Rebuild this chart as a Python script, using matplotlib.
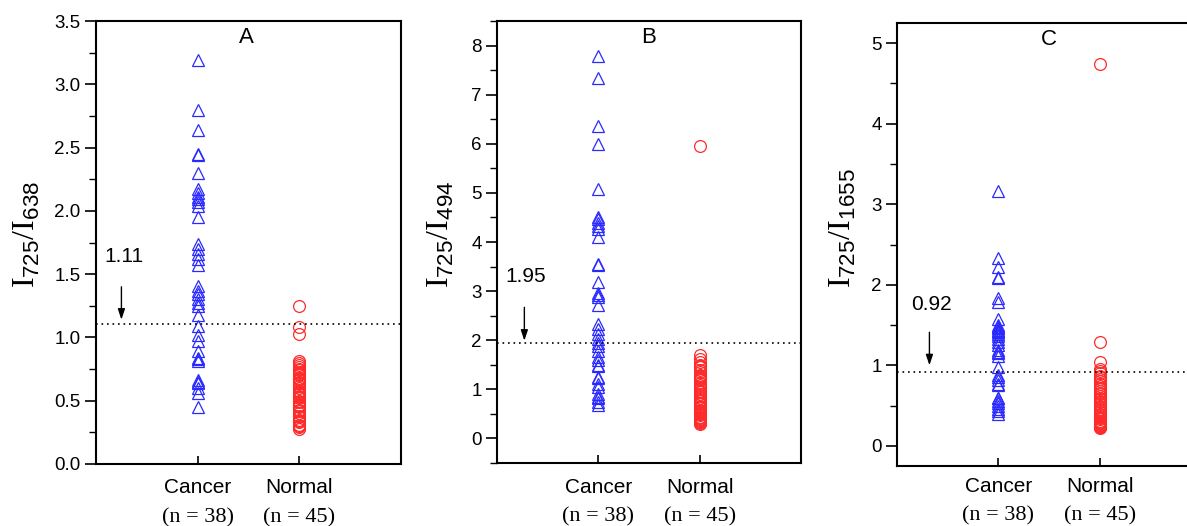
import matplotlib
matplotlib.use("Agg")
import matplotlib.pyplot as plt
from matplotlib.ticker import MultipleLocator, FormatStrFormatter
import matplotlib.transforms as mtransforms

plt.rcParams['font.family'] = ['Liberation Sans', 'DejaVu Sans']
plt.rcParams['mathtext.fontset'] = 'custom'
plt.rcParams['mathtext.rm'] = 'Liberation Serif'
plt.rcParams['mathtext.sf'] = 'Liberation Sans'

categories = ["Cancer", "Normal"]
counts = ["(n = 38)", "(n = 45)"]
panel_letters = ["A", "B", "C"]
denominators = ["638", "494", "1655"]
thresholds = [1.11, 1.95, 0.92]
threshold_labels = ["1.11", "1.95", "0.92"]

cancer_A = [3.19, 2.80, 2.64, 2.45, 2.44, 2.30, 2.17, 2.14, 2.11, 2.09, 2.07, 2.04, 1.95,
            1.74, 1.70, 1.66, 1.62, 1.57, 1.41, 1.37, 1.34, 1.30, 1.27, 1.25, 1.18, 1.09,
            1.02, 0.97, 0.89, 0.84, 0.83, 0.81, 0.66, 0.65, 0.64, 0.60, 0.56, 0.45]
normal_A = [1.25, 1.08, 1.03, 0.81, 0.80, 0.78, 0.77, 0.75, 0.74, 0.73, 0.72, 0.71, 0.70,
            0.68, 0.67, 0.66, 0.65, 0.64, 0.62, 0.60, 0.58, 0.57, 0.56, 0.55, 0.55, 0.54,
            0.53, 0.52, 0.50, 0.49, 0.47, 0.46, 0.45, 0.43, 0.42, 0.40, 0.38, 0.37, 0.35,
            0.34, 0.33, 0.31, 0.30, 0.29, 0.28]

cancer_B = [7.78, 7.33, 6.36, 6.00, 5.07, 4.50, 4.46, 4.39, 4.32, 4.26, 4.11, 3.55, 3.54,
            3.18, 2.97, 2.92, 2.87, 2.72, 2.33, 2.23, 2.13, 2.03, 1.95, 1.89, 1.79, 1.66,
            1.60, 1.49, 1.47, 1.25, 1.23, 1.10, 1.05, 0.91, 0.84, 0.82, 0.75, 0.69]
normal_B = [5.95, 1.69, 1.62, 1.55, 1.50, 1.47, 1.45, 1.40, 1.35, 1.30, 1.27, 1.25, 1.23,
            1.21, 1.18, 1.12, 1.08, 1.04, 1.00, 0.97, 0.94, 0.90, 0.86, 0.82, 0.79, 0.76,
            0.73, 0.70, 0.67, 0.64, 0.61, 0.58, 0.55, 0.53, 0.51, 0.49, 0.47, 0.44, 0.42,
            0.40, 0.38, 0.36, 0.34, 0.32, 0.30]

cancer_C = [3.16, 2.33, 2.22, 2.10, 2.09, 1.84, 1.79, 1.58, 1.50, 1.48, 1.47, 1.46, 1.44,
            1.42, 1.41, 1.39, 1.36, 1.33, 1.29, 1.25, 1.19, 1.17, 1.15, 1.12, 0.98, 0.88,
            0.86, 0.82, 0.77, 0.75, 0.60, 0.59, 0.56, 0.53, 0.50, 0.46, 0.43, 0.40]
normal_C = [4.74, 1.29, 1.04, 0.96, 0.93, 0.90, 0.87, 0.85, 0.83, 0.80, 0.77, 0.74, 0.72,
            0.70, 0.68, 0.66, 0.64, 0.62, 0.60, 0.58, 0.56, 0.54, 0.52, 0.50, 0.48, 0.46,
            0.44, 0.42, 0.40, 0.38, 0.36, 0.34, 0.33, 0.31, 0.30, 0.29, 0.28, 0.27, 0.26,
            0.25, 0.25, 0.24, 0.23, 0.23, 0.22]

cancer_all = [cancer_A, cancer_B, cancer_C]
normal_all = [normal_A, normal_B, normal_C]

W, H = 1187, 526
fig = plt.figure(figsize=(W / 100, H / 100), dpi=100)

# pixel boxes (left, top, right, bottom)
boxes = [(96, 21, 401, 464), (497, 21, 801, 463), (897, 23, 1201, 466)]
ylims = [(0, 3.5), (-0.5, 8.5), (-0.25, 5.25)]
majors = [0.5, 1, 1]
minors = [0.25, 0.5, 0.5]
fmts = ['%.1f', '%d', '%d']
ylabel_x = [27, 441, 843]
ylabel_bottom = 288
text_pos = [(0.27, 1.64), (0.28, 3.30), (0.34, 1.75)]
arrow_x = [0.25, 0.27, 0.32]
arrow_tail = [1.40, 2.67, 1.41]
arrow_tip = [1.14, 1.99, 1.00]
cat_y = [-0.065, -0.068, -0.059]
cnt_y = [-0.131, -0.132, -0.122]

blue = '#2a2aff'
red = '#ff2a2a'

for i in range(3):
    l, t, r, b = boxes[i]
    ax = fig.add_axes([l / W, (H - b) / H, (r - l) / W, (b - t) / H])
    ax.set_xlim(0, 3)
    ax.set_ylim(*ylims[i])
    ax.plot([1] * len(cancer_all[i]), cancer_all[i], linestyle='none', marker='^',
            ms=9, mfc='none', mec=blue, mew=0.9)
    ax.plot([2] * len(normal_all[i]), normal_all[i], linestyle='none', marker='o',
            ms=8.5, mfc='none', mec=red, mew=0.9)
    ax.axhline(thresholds[i], color='k', lw=1.2, linestyle=(0, (1, 2.3)))
    ax.annotate('', xy=(arrow_x[i], arrow_tip[i]), xytext=(arrow_x[i], arrow_tail[i]),
                arrowprops=dict(arrowstyle='-|>,head_length=0.45,head_width=0.15',
                                color='k', lw=1.0, mutation_scale=14,
                                shrinkA=0, shrinkB=0))
    ax.text(text_pos[i][0], text_pos[i][1], threshold_labels[i], fontsize=15,
            ha='center', va='center')
    ax.text(1.5 if i else 1.48, 0.962, panel_letters[i],
            transform=mtransforms.blended_transform_factory(ax.transData, ax.transAxes),
            fontsize=16, ha='center', va='center')

    for s in ax.spines.values():
        s.set_linewidth(1.5)
    ax.yaxis.set_major_locator(MultipleLocator(majors[i]))
    ax.yaxis.set_minor_locator(MultipleLocator(minors[i]))
    ax.yaxis.set_major_formatter(FormatStrFormatter(fmts[i]))
    ax.tick_params(axis='y', which='major', direction='out', length=8, width=1.2,
                   labelsize=13.5, pad=3)
    ax.tick_params(axis='y', which='minor', direction='out', length=5, width=1.0)
    ax.set_xticks([1, 2])
    ax.set_xticklabels([])
    ax.tick_params(axis='x', which='major', direction='in', length=6, width=1.2)
    ax.tick_params(axis='x', which='minor', bottom=False)

    trans = mtransforms.blended_transform_factory(ax.transData, ax.transAxes)
    for k, cat in enumerate(categories):
        ax.text(k + 1, cat_y[i], cat, transform=trans, fontsize=15, ha='center',
                va='baseline', clip_on=False)
        ax.text(k + 1, cnt_y[i], counts[k], transform=trans, fontsize=16, ha='center',
                va='baseline', family='Liberation Serif', clip_on=False)

    label = r'$\mathrm{I}_{\mathsf{725}}\mathrm{/I}_{\mathsf{' + denominators[i] + r'}}$'
    fig.text(ylabel_x[i] / W, (H - ylabel_bottom) / H, label, rotation=90,
             fontsize=23, ha='center', va='bottom')

fig.savefig('out.png', dpi=100)
